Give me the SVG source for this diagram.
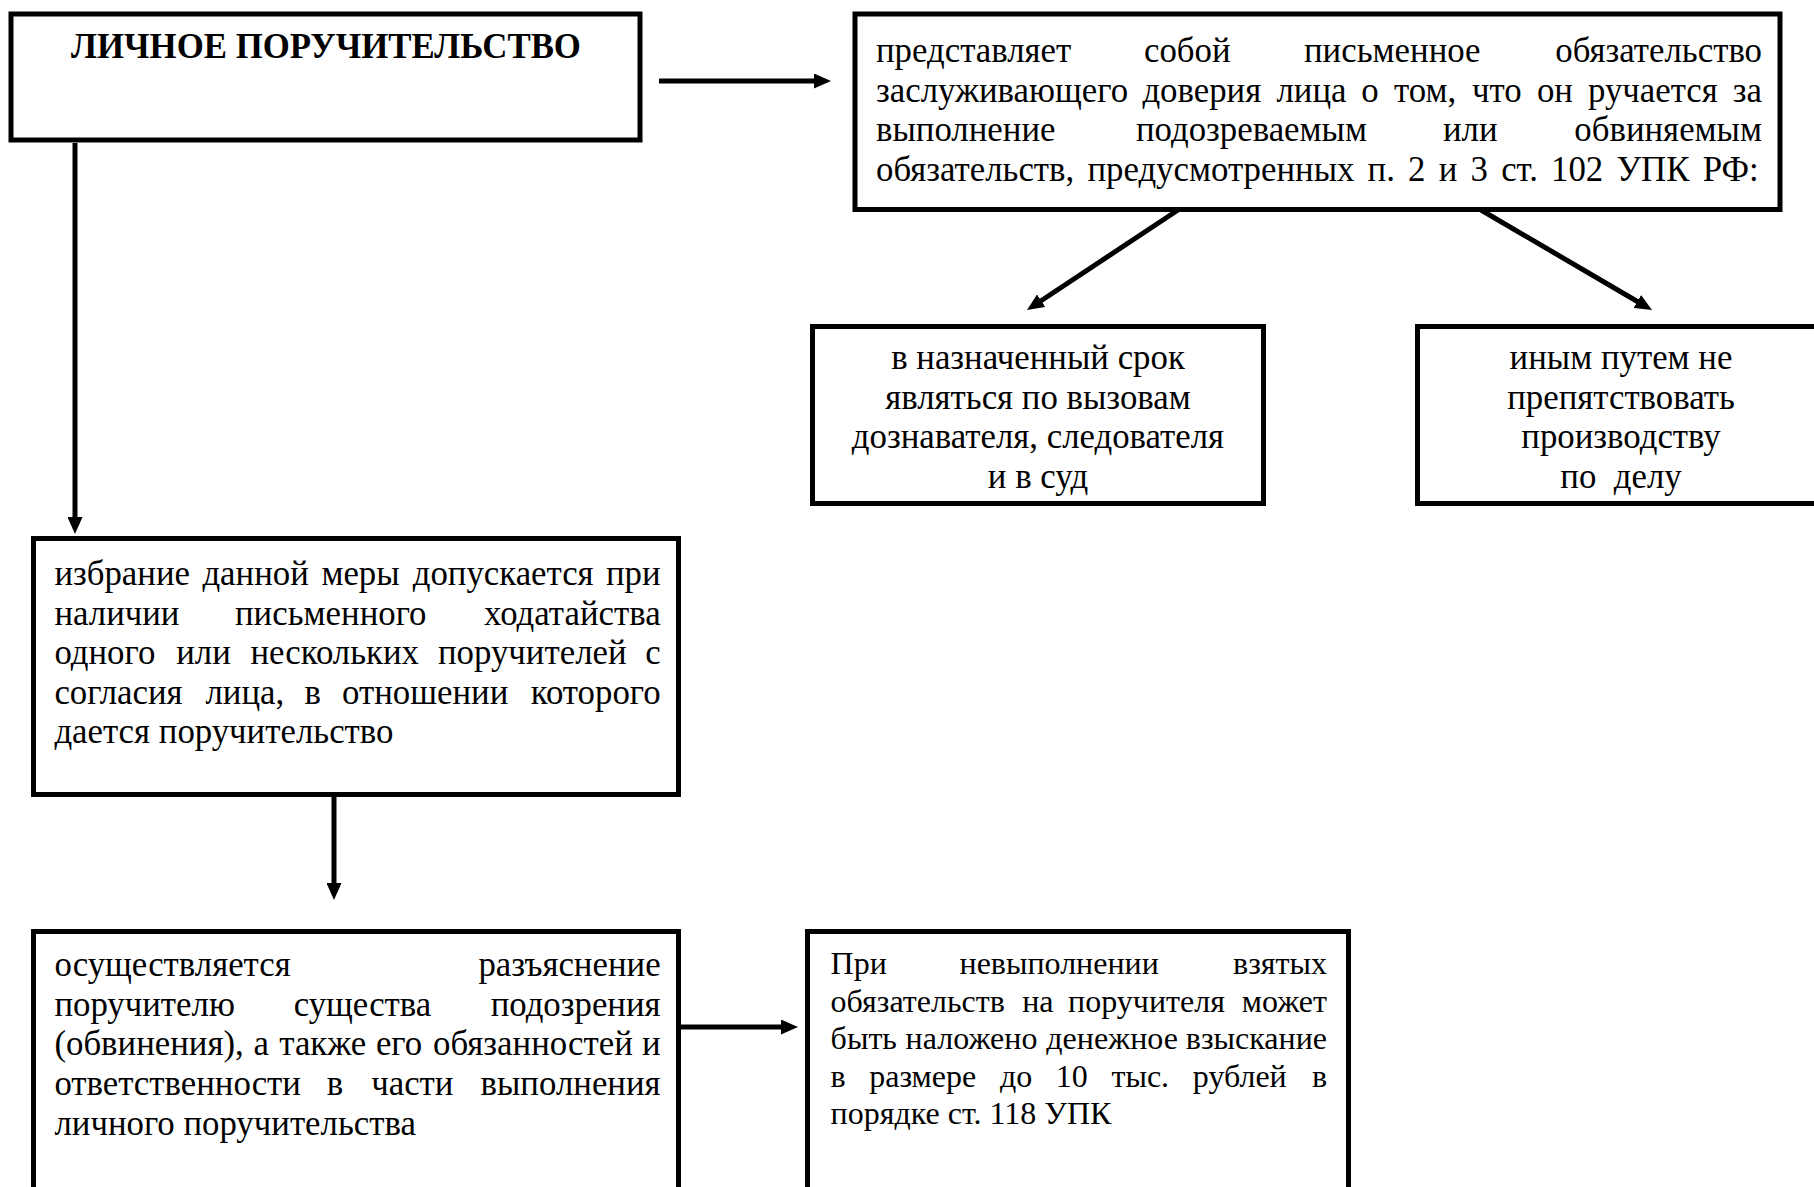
<svg xmlns="http://www.w3.org/2000/svg" width="1814" height="1187" viewBox="0 0 1814 1187">
<style>
.box{fill:#fff;stroke:#000;stroke-width:5}
.t{font-family:"Liberation Serif","Times New Roman",serif;font-size:34.8px;fill:#000}
.s{font-family:"Liberation Serif","Times New Roman",serif;font-size:32px;fill:#000}
.b{font-weight:bold}
.c{text-anchor:middle}
.e{text-anchor:end}
.ln{stroke:#000;stroke-width:5;fill:none;marker-end:url(#ah)}
</style>
<defs>
<marker id="ah" markerUnits="userSpaceOnUse" markerWidth="17" markerHeight="15" refX="6" refY="7.5" orient="auto">
<path d="M0,0 L17,7.5 L0,15 z" fill="#000"/>
</marker>
</defs>
<rect width="1814" height="1187" fill="#fff"/>
<g id="connectors">
<line class="ln" x1="659" y1="81" x2="820" y2="81"/>
<line class="ln" x1="1178" y1="210" x2="1036.2" y2="304"/>
<line class="ln" x1="1481" y1="210" x2="1642.5" y2="304.5"/>
<line class="ln" x1="75" y1="143" x2="75" y2="523"/>
<line class="ln" x1="334" y1="797" x2="334" y2="889"/>
<line class="ln" x1="681" y1="1027" x2="787" y2="1027"/>
</g>
<g id="node-title">
<rect class="box" x="11" y="14" width="629" height="126"/>
<text class="t b c" x="326" y="58">ЛИЧНОЕ ПОРУЧИТЕЛЬСТВО</text>
</g>
<g id="node-definition">
<rect class="box" x="855" y="14" width="925" height="195.5"/>
<text class="t" y="62"><tspan x="876">представляет</tspan><tspan x="1144">собой</tspan><tspan x="1304">письменное</tspan></text>
<text class="t e" x="1762" y="62">обязательство</text>
<text class="t" y="101.5"><tspan x="876">заслуживающего</tspan><tspan x="1142.4">доверия</tspan><tspan x="1276.5">лица</tspan><tspan x="1361.3">о</tspan><tspan x="1394">том,</tspan><tspan x="1471.9">что</tspan><tspan x="1536.9">он</tspan><tspan x="1588">ручается</tspan></text>
<text class="t e" x="1762" y="101.5">за</text>
<text class="t" y="141"><tspan x="876">выполнение</tspan><tspan x="1136">подозреваемым</tspan><tspan x="1443">или</tspan></text>
<text class="t e" x="1762" y="141">обвиняемым</text>
<text class="t" x="876" y="180.5" word-spacing="4.5">обязательств, предусмотренных п. 2 и 3 ст. 102 УПК РФ:</text>
</g>
<g id="node-appear">
<rect class="box" x="812.5" y="326.5" width="451" height="177"/>
<text class="t c" x="1038" y="369">в назначенный срок</text>
<text class="t c" x="1038" y="408.7">являться по вызовам</text>
<text class="t c" x="1038" y="448.4">дознавателя, следователя</text>
<text class="t c" x="1038" y="488.1">и в суд</text>
</g>
<g id="node-obstruct">
<rect class="box" x="1417.5" y="326.5" width="420" height="177"/>
<text class="t c" x="1621" y="369">иным путем не</text>
<text class="t c" x="1621" y="408.7">препятствовать</text>
<text class="t c" x="1621" y="448.4">производству</text>
<text class="t c" x="1621" y="488.1" xml:space="preserve">по  делу</text>
</g>
<g id="node-selection">
<rect class="box" x="33.5" y="538.5" width="645" height="256"/>
<text class="t" y="585"><tspan x="54.4">избрание</tspan><tspan x="202.4">данной</tspan><tspan x="321.4">меры</tspan><tspan x="412.7">допускается</tspan></text>
<text class="t e" x="660.6" y="585">при</text>
<text class="t" y="624.5"><tspan x="54.4">наличии</tspan><tspan x="235">письменного</tspan></text>
<text class="t e" x="660.6" y="624.5">ходатайства</text>
<text class="t" y="664"><tspan x="54.4">одного</tspan><tspan x="176.2">или</tspan><tspan x="250.4">нескольких</tspan><tspan x="438">поручителей</tspan></text>
<text class="t e" x="660.6" y="664">с</text>
<text class="t" y="703.5"><tspan x="54.4">согласия</tspan><tspan x="205.4">лица,</tspan><tspan x="304.6">в</tspan><tspan x="342">отношении</tspan></text>
<text class="t e" x="660.6" y="703.5">которого</text>
<text class="t" x="54.4" y="743">дается поручительство</text>
</g>
<g id="node-explanation">
<rect class="box" x="33.5" y="931.5" width="645" height="300"/>
<text class="t" x="54.4" y="976">осуществляется</text>
<text class="t e" x="660.6" y="976">разъяснение</text>
<text class="t" y="1015.7"><tspan x="54.4">поручителю</tspan><tspan x="293.7">существа</tspan></text>
<text class="t e" x="660.6" y="1015.7">подозрения</text>
<text class="t" y="1055.4"><tspan x="54.4">(обвинения),</tspan><tspan x="253.5">а</tspan><tspan x="279.3">также</tspan><tspan x="375.9">его</tspan><tspan x="433.1">обязанностей</tspan></text>
<text class="t e" x="660.6" y="1055.4">и</text>
<text class="t" y="1095.1"><tspan x="54.4">ответственности</tspan><tspan x="326.7">в</tspan><tspan x="371.2">части</tspan></text>
<text class="t e" x="660.6" y="1095.1">выполнения</text>
<text class="t" x="54.4" y="1134.8">личного поручительства</text>
</g>
<g id="node-penalty">
<rect class="box" x="807.5" y="931.5" width="541" height="300"/>
<text class="s" y="974"><tspan x="830.6">При</tspan><tspan x="959.5">невыполнении</tspan></text>
<text class="s e" x="1327" y="974">взятых</text>
<text class="s" y="1011.5"><tspan x="830.6">обязательств</tspan><tspan x="1022.2">на</tspan><tspan x="1068.1">поручителя</tspan></text>
<text class="s e" x="1327" y="1011.5">может</text>
<text class="s" y="1049"><tspan x="830.6">быть</tspan><tspan x="905.6">наложено</tspan><tspan x="1046.3">денежное</tspan></text>
<text class="s e" x="1327" y="1049">взыскание</text>
<text class="s" y="1086.5"><tspan x="830.6">в</tspan><tspan x="869.2">размере</tspan><tspan x="1000">до</tspan><tspan x="1055.8">10</tspan><tspan x="1111.4">тыс.</tspan><tspan x="1192.8">рублей</tspan></text>
<text class="s e" x="1327" y="1086.5">в</text>
<text class="s" x="830.6" y="1124">порядке ст. 118 УПК</text>
</g>
</svg>
